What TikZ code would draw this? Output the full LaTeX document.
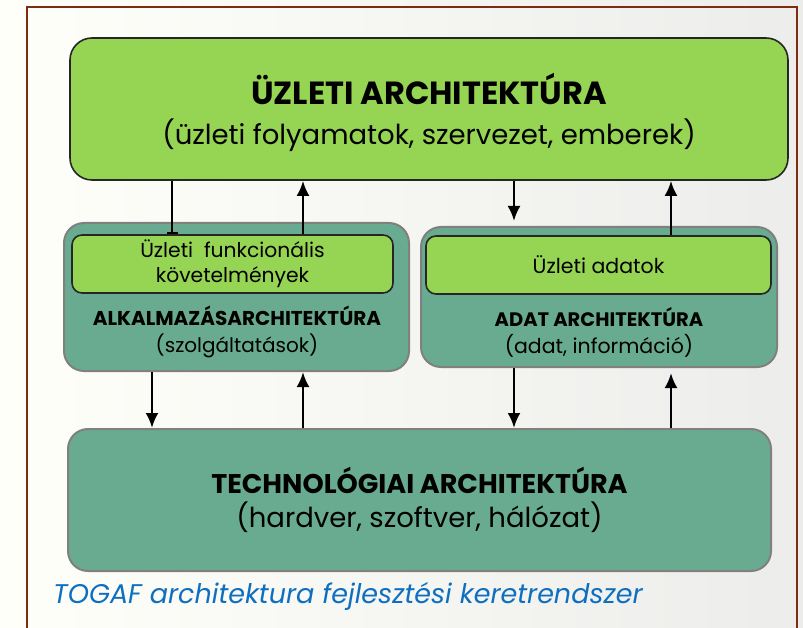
\documentclass[tikz,border=0pt]{standalone}
\usepackage{fontspec}
\setmainfont{Poppins}
\usetikzlibrary{arrows.meta,positioning}

\definecolor{framered}{HTML}{7F2A12}
\definecolor{bizgreen}{HTML}{96D453}
\definecolor{layerteal}{HTML}{68AB90}
\definecolor{captionblue}{HTML}{0E6FC1}

\tikzset{
  greenbox/.style={draw=black!85, line width=1.6pt, fill=bizgreen, rounded corners=10pt, inner sep=0pt, align=center},
  tealbox/.style={draw=black!50, line width=2pt, fill=layerteal, rounded corners=20pt, inner sep=0pt, align=center},
  flow/.style={line width=2.6pt, -{Latex[length=15pt,width=13pt]}},
  stopline/.style={line width=2.6pt, -{Bar[width=11pt,line width=1.8pt]}},
}

\begin{document}
\begin{tikzpicture}[x=1pt, y=-1pt]

% background and frame
\shade[left color=black!2!yellow!2, right color=green!20!yellow!10!black!8] (0,0) rectangle (803,628);
\useasboundingbox (0,0) rectangle (803,628);
\draw[framered, line width=2.5pt] (27,640) -- (27,7) -- (797,7) -- (797,640);

% layers
\node[greenbox, rounded corners=22pt, minimum width=718pt, minimum height=142pt,
      font=\fontsize{27.5}{40}\selectfont] (uzleti) at (429,109)
  {\rule{0pt}{38pt}{\fontsize{32}{40}\selectfont\bfseries ÜZLETI ARCHITEKTÚRA}\\
   (üzleti folyamatok, szervezet, emberek)};

\node[tealbox, minimum width=345pt, minimum height=148pt] (alkalmazas) at (236.5,297) {};
\node[greenbox, minimum width=321pt, minimum height=58pt,
      font=\fontsize{20.3}{25}\selectfont] (funkc) at (232.5,264)
  {Üzleti\ \ funkcionális\\ követelmények};
\node[align=center, inner sep=0pt, font=\fontsize{20}{27}\selectfont] (alkalmazaslbl) at (237,332)
  {{\fontsize{20}{27}\selectfont\bfseries ALKALMAZÁSARCHITEKTÚRA}\\
   (szolgáltatások)};

\node[tealbox, minimum width=356pt, minimum height=140pt] (adat) at (599,297) {};
\node[greenbox, minimum width=345pt, minimum height=58pt,
      font=\fontsize{20.5}{25}\selectfont] (adatok) at (598.5,265)
  {Üzleti adatok};
\node[align=center, inner sep=0pt, font=\fontsize{20.5}{27}\selectfont] (adatlbl) at (599,332)
  {{\fontsize{19.5}{27}\selectfont\bfseries ADAT ARCHITEKTÚRA}\\
   (adat, információ)};

\node[tealbox, minimum width=703pt, minimum height=142pt,
      font=\fontsize{27.5}{34}\selectfont] (tech) at (419.5,500)
  {{\fontsize{27}{34}\selectfont\bfseries TECHNOLÓGIAI ARCHITEKTÚRA}\\
   (hardver, szoftver, hálózat)};

\node[anchor=base west, inner sep=0pt, text=captionblue,
      font=\fontsize{27}{30}\selectfont\itshape] (caption) at (53,603)
  {TOGAF architektura fejlesztési keretrendszer};

% arrow columns
\coordinate (c1) at (172,0);
\coordinate (c2) at (303,0);
\coordinate (c3) at (514,0);
\coordinate (c4) at (671,0);
\coordinate (c5) at (152,0);

\draw[stopline] (uzleti.south -| c1) -- (funkc.north -| c1);
\draw[flow] (funkc.north -| c2) -- (uzleti.south -| c2);
\draw[flow] (uzleti.south -| c3) -- ([yshift=5pt]adat.north -| c3);
\draw[flow] (adatok.north -| c4) -- (uzleti.south -| c4);

\draw[flow] (alkalmazas.south -| c5) -- (tech.north -| c5);
\draw[flow] (tech.north -| c2) -- (alkalmazas.south -| c2);
\draw[flow] (adat.south -| c3) -- (tech.north -| c3);
\draw[flow] (tech.north -| c4) -- ([yshift=-5pt]adat.south -| c4);

\end{tikzpicture}
\end{document}
